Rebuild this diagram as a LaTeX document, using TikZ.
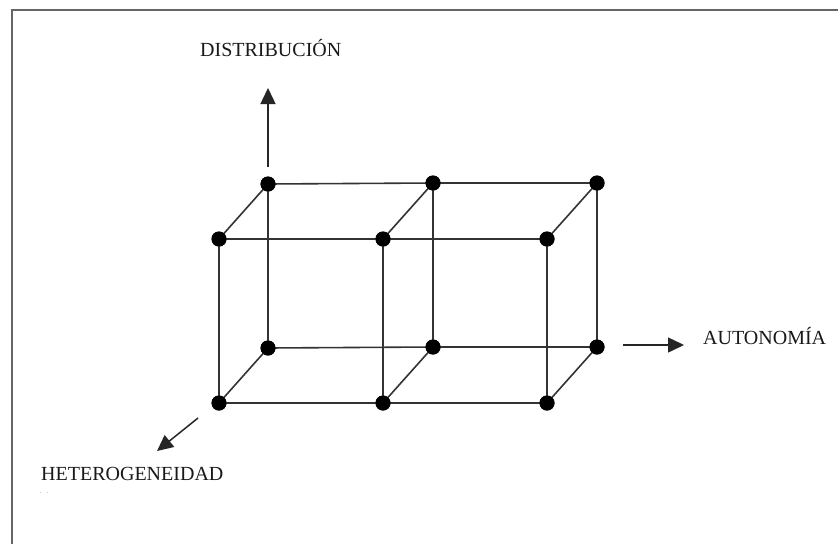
\documentclass[tikz,border=0pt]{standalone}
\usepackage{fontspec}
\setmainfont{Liberation Serif}
\usetikzlibrary{arrows.meta}
\begin{document}
\begin{tikzpicture}[x=1pt,y=-1pt,
  dot/.style={circle,fill=black,inner sep=0pt,minimum size=15pt},
  edge/.style={draw=black!80,line width=1.6pt},
  axis/.style={draw=black!85,line width=1.5pt,-{Triangle[length=16pt,width=15pt]}},
  lbl/.style={font=\fontsize{20}{22}\selectfont,inner sep=0pt,text=black!90},
  frame/.style={draw=black!60,line width=2.2pt}]
\useasboundingbox (0,0) rectangle (838,544);
\fill[white] (0,0) rectangle (838,544);
\draw[frame] (12,544) -- (12,10) -- (838,10);
% back face
\node[dot] (b1) at (268,184) {};
\node[dot] (b2) at (433,183) {};
\node[dot] (b3) at (597,183) {};
\node[dot] (b4) at (268,348) {};
\node[dot] (b5) at (433,347) {};
\node[dot] (b6) at (597,347) {};
% front face
\node[dot] (f1) at (219,239) {};
\node[dot] (f2) at (383,239) {};
\node[dot] (f3) at (547,239) {};
\node[dot] (f4) at (219,403) {};
\node[dot] (f5) at (383,403) {};
\node[dot] (f6) at (547,403) {};
\path[edge] (b1.center) -- (b2.center) -- (b3.center);
\path[edge] (b4.center) -- (b5.center) -- (b6.center);
\path[edge] (b1.center) -- (b4.center);
\path[edge] (b2.center) -- (b5.center);
\path[edge] (b3.center) -- (b6.center);
\path[edge] (f1.center) -- (f2.center) -- (f3.center);
\path[edge] (f4.center) -- (f5.center) -- (f6.center);
\path[edge] (f1.center) -- (f4.center);
\path[edge] (f2.center) -- (f5.center);
\path[edge] (f3.center) -- (f6.center);
\path[edge] (f1.center) -- (b1.center);
\path[edge] (f2.center) -- (b2.center);
\path[edge] (f3.center) -- (b3.center);
\path[edge] (f4.center) -- (b4.center);
\path[edge] (f5.center) -- (b5.center);
\path[edge] (f6.center) -- (b6.center);
% redraw dots on top
\foreach \n in {b1,b2,b3,b4,b5,b6,f1,f2,f3,f4,f5,f6}
  \fill[black] (\n.center) circle (7.5pt);
% axes
\coordinate (u0) at (268,167);
\coordinate (u1) at (268,88);
\coordinate (r0) at (623,345);
\coordinate (r1) at (684,345);
\coordinate (d0) at (198,418);
\coordinate (d1) at (157,451);
\path[axis] (u0) -- (u1);
\path[axis] (r0) -- (r1);
\path[axis] (d0) -- (d1);
% labels
\node[lbl,anchor=base west] (ld) at (200,56) {DISTRIBUCIÓN};
\node[lbl,anchor=base west] (la) at (703,344) {AUTONOMÍA};
\node[lbl,anchor=base west] (lh) at (41,480) {HETEROGENEIDAD};
\node[font=\fontsize{6}{6}\selectfont,anchor=base west,inner sep=0pt,text=black!60] (lx) at (40,493) {.\hspace{5pt}.};
\end{tikzpicture}
\end{document}
